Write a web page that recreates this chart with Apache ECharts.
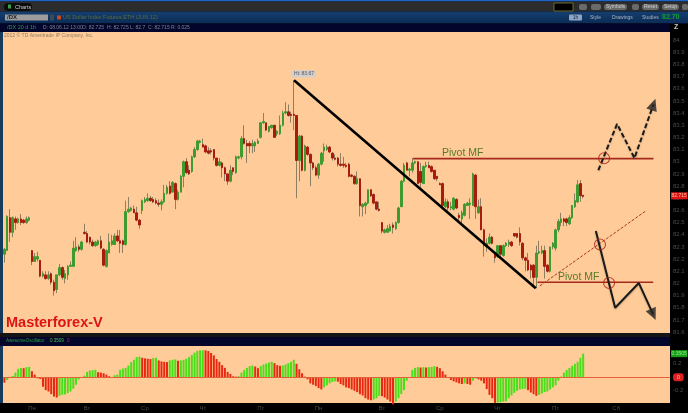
<!DOCTYPE html>
<html><head><meta charset="utf-8">
<style>html,body{margin:0;padding:0;background:#000;overflow:hidden}#c{width:688px;height:413px}</style>
<script src="https://cdn.jsdelivr.net/npm/echarts@6/dist/echarts.min.js"></script>
</head><body><div id="c"></div>
<script>
// [open, close, low, high] per hourly bar
const candles=[
[82.24,82.28,82.17,82.29],[82.27,82.55,82.27,82.56],[82.54,82.42,82.34,82.61],[82.42,82.54,82.38,82.55],[82.53,82.50,82.44,82.55],[82.50,82.53,82.49,82.54],[82.53,82.50,82.48,82.57],[82.52,82.50,82.49,82.53],[82.50,82.53,82.49,82.55],[82.52,82.54,82.51,82.55],
[82.27,82.18,82.15,82.27],[82.18,82.22,82.18,82.25],[82.20,82.22,82.18,82.26],[82.19,82.06,82.05,82.19],[82.06,82.08,82.05,82.10],[82.07,82.04,82.03,82.10],[82.04,82.07,82.03,82.10],[82.08,82.01,81.99,82.09],[82.01,81.94,81.90,82.03],[81.95,82.07,81.92,82.07],
[82.07,82.13,82.06,82.16],[82.13,82.05,82.03,82.14],[82.04,82.08,82.00,82.11],[82.07,82.14,82.03,82.15],[82.14,82.15,82.14,82.18],[82.14,82.29,82.14,82.35],[82.27,82.30,82.26,82.38],[82.30,82.28,82.26,82.32],[82.28,82.34,82.27,82.35],[82.42,82.41,82.40,82.49],
[82.41,82.34,82.33,82.43],[82.38,82.34,82.32,82.38],[82.34,82.31,82.30,82.36],[82.31,82.34,82.30,82.35],[82.32,82.35,82.31,82.36],[82.35,82.29,82.28,82.39],[82.28,82.15,82.14,82.29],[82.14,82.27,82.13,82.28],[82.25,82.34,82.25,82.41],[82.32,82.35,82.31,82.40],
[82.32,82.39,82.32,82.41],[82.39,82.35,82.34,82.44],[82.35,82.33,82.25,82.44],[82.35,82.32,82.25,82.36],[82.32,82.59,82.31,82.68],[82.59,82.61,82.58,82.71],[82.60,82.62,82.59,82.63],[82.61,82.58,82.58,82.64],[82.58,82.52,82.51,82.63],[82.52,82.48,82.45,82.53],
[82.60,82.68,82.57,82.69],[82.67,82.69,82.66,82.71],[82.68,82.70,82.67,82.74],[82.70,82.68,82.67,82.72],[82.69,82.67,82.66,82.71],[82.68,82.66,82.65,82.70],[82.66,82.65,82.63,82.69],[82.65,82.67,82.60,82.69],[82.67,82.74,82.66,82.81],[82.74,82.79,82.73,82.81],
[82.80,82.74,82.73,82.84],[82.75,82.83,82.75,82.84],[82.82,82.69,82.61,82.83],[82.69,82.75,82.68,82.77],[82.75,82.88,82.75,82.89],[82.88,83.00,82.79,83.01],[83.00,82.91,82.90,83.03],[82.93,82.90,82.89,82.97],[82.92,83.04,82.91,83.05],[83.04,83.10,83.03,83.12],
[83.10,83.17,83.09,83.18],[83.16,83.17,83.15,83.18],[83.14,83.12,83.12,83.19],[83.13,83.08,83.07,83.14],[83.09,83.07,83.06,83.12],[83.09,83.08,83.06,83.11],[83.10,83.03,83.01,83.10],[83.03,82.97,82.96,83.03],[82.97,83.00,82.96,83.03],[82.99,82.95,82.87,83.00],
[82.95,82.90,82.84,82.96],[82.90,82.84,82.81,82.90],[82.84,82.93,82.83,82.97],[82.95,82.92,82.89,82.95],[82.91,83.04,82.90,83.05],[83.03,83.04,83.02,83.05],[83.04,83.19,83.02,83.21],[83.19,83.15,83.14,83.30],[83.15,83.13,82.99,83.18],[83.15,83.13,83.07,83.17],
[83.13,83.15,83.07,83.18],[83.13,83.16,83.08,83.17],[83.15,83.17,83.15,83.19],[83.20,83.32,83.19,83.32],[83.32,83.33,83.31,83.40],[83.32,83.26,83.25,83.32],[83.25,83.29,83.24,83.29],[83.28,83.30,83.27,83.30],[83.30,83.20,83.20,83.30],[83.23,83.25,83.21,83.26],
[83.23,83.30,83.22,83.38],[83.30,83.40,83.29,83.42],[83.40,83.41,83.39,83.49],[83.41,83.38,83.37,83.47],[83.39,83.38,83.32,83.41],[83.39,83.38,83.26,83.67],[83.38,83.01,82.70,83.38],[83.01,83.21,82.84,83.22],[83.21,82.93,82.92,83.22],[82.93,83.13,82.92,83.14],
[83.12,83.06,83.05,83.13],[83.06,82.99,82.80,83.07],[82.99,82.95,82.93,83.00],[82.95,82.89,82.88,82.97],[82.89,82.98,82.86,82.99],[82.98,83.07,82.97,83.08],[83.09,83.12,83.00,83.15],[83.10,83.12,83.09,83.14],[83.12,83.08,83.07,83.13],[83.07,83.03,83.01,83.08],
[83.03,83.02,83.01,83.06],[83.03,82.98,82.96,83.04],[82.98,82.97,82.96,83.07],[82.98,82.97,82.95,83.04],[82.97,82.96,82.95,82.99],[82.98,82.88,82.87,82.99],[82.89,82.88,82.87,82.90],[82.88,82.82,82.81,82.89],[82.82,82.86,82.81,82.92],[82.86,82.64,82.55,82.86],
[82.63,82.65,82.55,82.66],[82.64,82.66,82.57,82.67],[82.66,82.77,82.65,82.77],[82.77,82.72,82.71,82.77],[82.73,82.66,82.65,82.74],[82.67,82.61,82.60,82.67],[82.61,82.60,82.59,82.67],[82.50,82.43,82.41,82.50],[82.42,82.44,82.41,82.45],[82.42,82.45,82.42,82.48],
[82.43,82.47,82.43,82.49],[82.48,82.46,82.41,82.50],[82.45,82.50,82.44,82.51],[82.50,82.62,82.49,82.63],[82.63,82.84,82.63,82.85],[82.84,82.97,82.83,82.99],[82.99,82.93,82.93,83.00],[82.93,82.94,82.88,82.95],[82.93,82.99,82.91,83.03],[82.99,83.00,82.98,83.01],
[83.00,82.82,82.82,83.00],[82.92,82.83,82.79,82.99],[82.82,82.96,82.82,82.97],[82.96,82.97,82.95,83.00],[82.97,82.95,82.95,83.00],[82.96,82.92,82.91,82.97],[82.93,82.86,82.85,82.93],[82.88,82.86,82.84,82.88],[82.82,82.81,82.81,82.83],[82.82,82.64,82.63,82.83],
[82.63,82.67,82.62,82.70],[82.67,82.62,82.60,82.69],[82.62,82.63,82.60,82.67],[82.61,82.70,82.60,82.71],[82.69,82.62,82.61,82.70],[82.56,82.54,82.52,82.58],[82.53,82.58,82.49,82.60],[82.56,82.65,82.55,82.66],[82.64,82.66,82.64,82.67],[82.65,82.66,82.53,82.70],
[82.64,82.90,82.64,82.91],[82.89,82.63,82.53,82.90],[82.58,82.63,82.57,82.69],[82.63,82.44,82.44,82.70],[82.44,82.31,82.22,82.45],[82.30,82.33,82.26,82.37],[82.33,82.38,82.32,82.41],[82.38,82.33,82.32,82.39],[82.25,82.21,82.17,82.25],[82.22,82.31,82.21,82.31],
[82.31,82.24,82.22,82.31],[82.23,82.31,82.22,82.32],[82.31,82.33,82.30,82.34],[82.32,82.34,82.30,82.36],[82.34,82.31,82.30,82.35],[82.41,82.39,82.38,82.41],[82.41,82.38,82.37,82.41],[82.41,82.34,82.31,82.46],[82.33,82.21,82.19,82.34],[82.21,82.19,82.10,82.22],
[82.19,82.11,82.10,82.25],[82.15,82.11,82.04,82.16],[82.15,82.05,81.97,82.16],[82.05,82.25,81.96,82.31],[82.25,82.26,82.24,82.35],[82.25,82.27,82.24,82.31],[82.27,82.14,82.04,82.31],[82.15,82.10,82.09,82.16],[82.10,82.30,82.09,82.30],[82.30,82.33,82.28,82.34],
[82.29,82.44,82.27,82.45],[82.44,82.51,82.42,82.53],[82.50,82.53,82.47,82.58],[82.53,82.51,82.47,82.54],[82.53,82.50,82.47,82.54],[82.49,82.54,82.48,82.56],[82.54,82.64,82.53,82.64],[82.63,82.68,82.62,82.74],[82.67,82.81,82.66,82.85],[82.82,82.72,82.67,82.85],
[82.725,82.715,82.70,82.725]
];
// Awesome Oscillator, one value per bar
const aoValues=[
-0.08,-0.04,-0.01,0.02,0.07,0.125,0.14,0.135,0.15,0.155,
0.09,0.04,-0.015,-0.025,-0.14,-0.19,-0.21,-0.25,-0.285,-0.30,
-0.275,-0.26,-0.255,-0.235,-0.21,-0.17,-0.11,-0.03,0,0.025,
0.08,0.10,0.105,0.11,0.075,0.07,0.06,0.04,0.015,0.005,
0.03,0.04,0.11,0.13,0.14,0.175,0.225,0.26,0.30,0.305,
0.29,0.28,0.275,0.27,0.285,0.29,0.25,0.235,0.23,0.225,
0.25,0.26,0.265,0.245,0.25,0.26,0.275,0.30,0.33,0.365,
0.39,0.405,0.41,0.405,0.39,0.36,0.325,0.27,0.23,0.18,
0.14,0.08,0.05,0.015,0.01,0.015,0.07,0.11,0.14,0.165,
0.175,0.16,0.135,0.165,0.19,0.205,0.22,0.23,0.21,0.18,
0.17,0.175,0.19,0.21,0.23,0.26,0.20,0.12,0.06,0.01,
-0.03,-0.09,-0.11,-0.13,-0.16,-0.18,-0.15,-0.12,-0.09,-0.07,
-0.06,-0.065,-0.10,-0.12,-0.15,-0.16,-0.18,-0.20,-0.22,-0.25,
-0.27,-0.31,-0.33,-0.34,-0.33,-0.31,-0.275,-0.28,-0.30,-0.33,
-0.36,-0.40,-0.36,-0.31,-0.25,-0.19,-0.05,0.005,0.11,0.14,
0.15,0.145,0.15,0.145,0.15,0.155,0.165,0.155,0.135,0.09,
0.04,0,-0.04,-0.06,-0.075,-0.09,-0.10,-0.09,-0.10,-0.11,
-0.05,-0.02,-0.03,-0.05,-0.09,-0.175,-0.26,-0.31,-0.38,-0.375,
-0.37,-0.36,-0.355,-0.31,-0.27,-0.23,-0.20,-0.18,-0.175,-0.17,
-0.19,-0.225,-0.25,-0.275,-0.26,-0.24,-0.22,-0.21,-0.18,-0.15,
-0.12,-0.05,0.01,0.07,0.11,0.14,0.17,0.20,0.23,0.29,
0.3505
];
const barSlots=242;
const dayLabelBars=[10,30,51,72,93,114,137,158,179,200,222];
const dayLabels=['Пн','Вт','Ср','Чт','Пт','Пн','Вт','Ср','Чт','Пт','Сб'];
const trendDown=[[105.1,83.67],[192.8,81.96]];
const pivotUpper=[[148.3,83.025],[235.5,83.025]];
const pivotLower=[[193.4,82.01],[235.4,82.01]];
const trendUp=[[194.3,81.98],[232.8,82.597]];
const bullPath=[[215.5,82.93],[222.3,83.31],[228.6,83.03],[235.5,83.47]];
const bearPath=[[214.6,82.43],[221.6,81.80],[230.2,82.003],[235.4,81.745]];
const circles=[[217.6,83.028],[216.1,82.32],[219.4,82.003]];
const lastPrice=82.715, aoLast=0.3505;

const categories=Array.from({length:barSlots},(_,i)=>{const k=dayLabelBars.indexOf(i);return k<0?'':dayLabels[k];});
const UP='#3f9a30',DOWN='#a81c10',WICK='#8f7f62',DIM='#4c4c4c',FONT='"Liberation Sans",Arial,sans-serif';
const NOLINE={color:'rgba(0,0,0,0)',width:0};
const grayLine=(data,extra)=>Object.assign({type:'line',xAxisIndex:1,yAxisIndex:0,data,symbol:'none',silent:true,z:6},extra);
const rect=(x,y,w,h,fill,z)=>({type:'rect',shape:{x,y,width:w,height:h},style:{fill},z:z===undefined?-10:z,silent:true});
const txt=(x,y,text,fill,size,extra)=>{const e=Object.assign({},extra||{});const w=e.bold?'bold ':'';delete e.bold;
  return {type:'text',x,y,style:Object.assign({text,fill,font:w+(size||5)+'px '+FONT,textVerticalAlign:'middle'},e),z:50,silent:true};};
const grad=(a,b)=>({type:'linear',x:0,y:0,x2:0,y2:1,colorStops:[{offset:0,color:a},{offset:1,color:b}]});
const chip=(x,w,label)=>[{type:'rect',shape:{x,y:4,width:w,height:6,r:3},style:{fill:'#6a6a6a'},z:40,silent:true},txt(x+w/2,7,label,'#cfcfcf',5,{textAlign:'center'})];

const chart=echarts.init(document.getElementById('c'),null,{renderer:'canvas',width:688,height:413});
chart.setOption({
  animation:false,backgroundColor:'#000',
  grid:[{left:3,right:18,top:40,height:292.1},{left:3,right:18,top:350.3,height:54}],
  xAxis:[
    {type:'category',gridIndex:0,data:categories,show:false,boundaryGap:true},
    {type:'value',gridIndex:0,min:-0.5,max:barSlots-0.5,show:false},
    {type:'category',gridIndex:1,data:categories,boundaryGap:true,axisLine:{show:false},axisTick:{show:false},
      axisLabel:{interval:(i,v)=>v!=='',color:DIM,fontSize:6,margin:1,fontFamily:FONT,hideOverlap:false}}
  ],
  yAxis:[
    {type:'value',gridIndex:0,position:'right',min:81.6,max:84,interval:0.1,splitLine:{show:false},axisLine:{show:false},axisTick:{show:false},
      axisLabel:{color:DIM,fontSize:6,margin:3,fontFamily:FONT,formatter:v=>String(+v.toFixed(1))}},
    {type:'value',gridIndex:1,position:'right',min:-0.4,max:0.4,interval:0.2,splitLine:{show:false},axisLine:{show:false},axisTick:{show:false},
      axisLabel:{color:DIM,fontSize:6,margin:3,fontFamily:FONT,formatter:v=>Math.abs(Math.abs(v)-0.2)<1e-6?String(+v.toFixed(1)):''}}
  ],
  series:[
    {type:'candlestick',name:'wicks',xAxisIndex:0,yAxisIndex:0,data:candles,barWidth:1,silent:true,z:3,
      itemStyle:{color:WICK,color0:WICK,borderColor:WICK,borderColor0:WICK,borderWidth:1},
      markLine:{silent:true,symbol:'none',animation:false,data:[{yAxis:lastPrice}],lineStyle:NOLINE,
        label:{position:'end',distance:1,formatter:'82.715',backgroundColor:'#e01414',color:'#f4c0a0',fontSize:5,padding:[1,0.5],fontFamily:FONT}}},
    {type:'candlestick',name:'bodies',xAxisIndex:0,yAxisIndex:0,silent:true,z:4,barWidth:2,
      data:candles.map(c=>[c[0],c[1],Math.min(c[0],c[1]),Math.max(c[0],c[1])]),
      itemStyle:{color:UP,color0:DOWN,borderColor:UP,borderColor0:DOWN,borderWidth:1}},
    grayLine(trendDown,{lineStyle:{color:'#000',width:2.6}}),
    grayLine(pivotUpper,{lineStyle:{color:'#a52a1e',width:1.6}}),
    grayLine(pivotLower,{lineStyle:{color:'#a52a1e',width:1.6}}),
    grayLine(trendUp,{lineStyle:{color:'#a83a22',width:1,type:[3,1.5]}}),
    grayLine(bullPath,{lineStyle:{color:'#1a1a1a',width:2,type:[5,2.5],shadowColor:'rgba(0,0,0,.25)',shadowBlur:2,shadowOffsetY:1}}),
    grayLine(bearPath,{lineStyle:{color:'#1a1a1a',width:2,shadowColor:'rgba(0,0,0,.25)',shadowBlur:2,shadowOffsetY:1}}),
    {type:'scatter',xAxisIndex:1,yAxisIndex:0,silent:true,z:7,data:[bullPath[3]],symbol:'triangle',symbolSize:[11,12],symbolRotate:-19,itemStyle:{color:'#222'}},
    {type:'scatter',xAxisIndex:1,yAxisIndex:0,silent:true,z:7,data:[bearPath[3]],symbol:'triangle',symbolSize:[11,12],symbolRotate:-156,itemStyle:{color:'#222'}},
    {type:'scatter',xAxisIndex:1,yAxisIndex:0,silent:true,z:7,data:circles,symbol:'circle',symbolSize:11,itemStyle:{color:'rgba(0,0,0,0)',borderColor:'#b02018',borderWidth:1.1}},
    {type:'scatter',xAxisIndex:1,yAxisIndex:0,silent:true,z:8,data:[trendDown[0]],symbolSize:0,
      label:{show:true,position:'top',offset:[10,2],formatter:'Hi: 83.67',fontSize:5,color:'#333',backgroundColor:'#c6d0da',padding:[1,2],borderRadius:1,fontFamily:FONT}},
    {type:'bar',xAxisIndex:2,yAxisIndex:1,data:aoValues,barWidth:2,silent:true,z:3,
      itemStyle:{color:p=>(p.dataIndex>0&&p.value>aoValues[p.dataIndex-1])?'#48e018':'#e82810'},
      markLine:{silent:true,symbol:'none',animation:false,
        data:[
          {yAxis:0,lineStyle:{color:'#e2603a',width:1,type:'solid'},label:{position:'end',distance:3,formatter:' 0 ',backgroundColor:'#e02020',color:'#f4b0a0',fontSize:6,padding:[1,2],borderRadius:3,fontFamily:FONT}},
          {yAxis:aoLast,lineStyle:NOLINE,label:{position:'end',distance:1,formatter:'0.3505',backgroundColor:'#18a018',color:'#88ee88',fontSize:5,padding:[1,0.5],fontFamily:FONT}}
        ]}}
  ],
  graphic:{elements:[
    rect(0,0,688,1.5,'#1f62c8'),rect(0,1.5,688,10,'#2c2c2c'),
    {type:'rect',shape:{x:4,y:3,width:28,height:8,r:4},style:{fill:'#0c0c0c'},z:40,silent:true},
    txt(15,7,'Charts','#c8c8c8',5.5),
    {type:'rect',shape:{x:8,y:4.5,width:3,height:4},style:{fill:'#3aa040'},z:41,silent:true},
    rect(0,11.5,688,12,grad('#153f70','#0b2c55'),-9),
    {type:'rect',shape:{x:5,y:14.5,width:43,height:6},style:{fill:'#9c9c9c'},z:40,silent:true},
    txt(7,17.5,'/DX','#222',6,{bold:true}),
    {type:'rect',shape:{x:50,y:14.5,width:4,height:6},style:{fill:'#3a4a5a'},z:40,silent:true},
    {type:'rect',shape:{x:57,y:15.5,width:4,height:4},style:{fill:'#c84a1a'},z:40,silent:true},
    txt(63,17.5,'US Dollar Index Futures,ETH (JUN 12)','#5e6f3a',5.5),
    rect(0,23.5,688,8.5,'#03062a',-9),
    txt(7,27.7,'/DX 20 d 1h','#2d9a4a',5.5),
    txt(43,27.7,'D: 08.06.12 13:00','#7c8494',5),
    txt(82,27.7,'O: 82.725','#7c8494',5),txt(107,27.7,'H: 82.725','#7c8494',5),
    txt(130,27.7,'L: 82.7','#7c8494',5),txt(148,27.7,'C: 82.715','#7c8494',5),txt(171,27.7,'R: 0.025','#7c8494',5),
    rect(0,32,3,301,'#163a5c',-9),rect(0,346,3,57,'#163a5c',-9),
    rect(3,32,667,301,'#ffcc99',-8),
    rect(670,24,18,389,'#000',-8),
    txt(4,36,'2012 © TD Ameritrade IP Company, Inc.','#8f7f62',5),
    {type:'text',x:6,y:323,style:{text:'Masterforex-V',fill:'#dc1414',font:'bold 14.5px '+FONT,textVerticalAlign:'middle'},z:50,silent:true},
    rect(0,333,670,4,'#151515',-9),
    rect(0,337,670,9,'#03062a',-9),
    txt(6,340.5,'AwesomeOscillator','#2d9a4a',4.5),txt(50,340.5,'0.3509','#48c048',4.5),txt(67,340.5,'0','#b03030',4.5),
    rect(3,346,667,57,'#ffcc99',-8),
    rect(0,403,688,10,'#000',-7),
    {type:'rect',shape:{x:554,y:3,width:19,height:8},style:{fill:'#000',stroke:'#6a6a30',lineWidth:1},z:40,silent:true},
    {type:'rect',shape:{x:579,y:4,width:8,height:6,r:2},style:{fill:'#6a6a6a'},z:40,silent:true},
    {type:'rect',shape:{x:591,y:4,width:10,height:6,r:2},style:{fill:'#6a6a6a'},z:40,silent:true},
    ...chip(604,23,'Symbols'),
    {type:'rect',shape:{x:632,y:4,width:7,height:6,r:2},style:{fill:'#6a6a6a'},z:40,silent:true},
    ...chip(642,17,'Reset'),...chip(662,17,'Setup'),
    {type:'rect',shape:{x:682,y:4,width:6,height:6,r:2},style:{fill:'#6a6a6a'},z:40,silent:true},
    {type:'rect',shape:{x:569,y:14.5,width:13,height:6,r:1},style:{fill:'#8fa4c0'},z:40,silent:true},
    txt(575.5,17.5,'1h','#0b2c55',5,{textAlign:'center'}),
    txt(590,17.5,'Style','#aab4c0',5),txt(612,17.5,'Drawings','#aab4c0',5),txt(642,17.5,'Studies','#aab4c0',5),
    txt(662,17.5,'82.70','#0ea030',7,{bold:true}),
    txt(674,27.5,'Z','#c8c8c8',7,{bold:true}),
    txt(442,153,'Pivot MF','#5a7a28',10.5),
    txt(558,277,'Pivot MF','#5a7a28',10.5)
  ]}
});
</script></body></html>
